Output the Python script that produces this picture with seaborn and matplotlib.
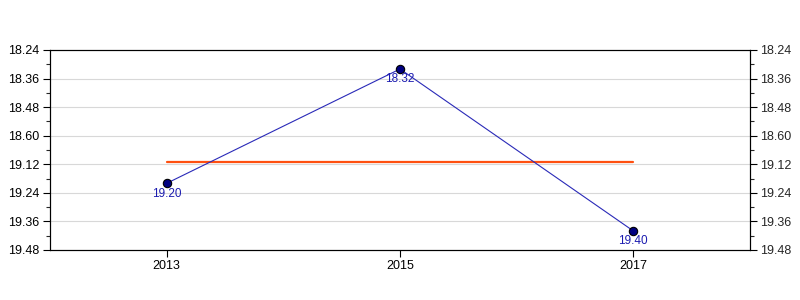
import numpy as np
import matplotlib
matplotlib.use("Agg")
import matplotlib.pyplot as plt
import seaborn as sns
import pandas as pd
from matplotlib.ticker import FixedLocator

years = [2013, 2015, 2017]
values = [19.20, 18.32, 19.40]
value_labels = ["19.20", "18.32", "19.40"]
ref_value = 19.07
tick_values = [18.24, 18.36, 18.48, 18.60, 19.12, 19.24, 19.36, 19.48]
tick_labels = ["18.24", "18.36", "18.48", "18.60", "19.12", "19.24", "19.36", "19.48"]

sns.set_theme(style="white")
plt.rcParams['font.family'] = ['Liberation Sans', 'DejaVu Sans']

tv = np.array(tick_values)
pos = np.arange(len(tv), dtype=float)

def fwd(v):
    return np.interp(v, tv, pos)

def inv(p):
    return np.interp(p, pos, tv)

minor_vals = list(inv(pos[:-1] + 0.5))

fig = plt.figure(figsize=(8, 3), dpi=100)
ax = fig.add_axes([0.0625, 0.1667, 0.875, 0.6667])
ax.set_yscale('function', functions=(fwd, inv))

df = pd.DataFrame({"year": years, "value": values})
sns.lineplot(data=df, x="year", y="value", ax=ax, color="#2a2ab8", linewidth=0.8,
             marker="o", markersize=6, markerfacecolor="#000080", markeredgecolor="black",
             markeredgewidth=0.8)
ax.plot([years[0], years[-1]], [ref_value, ref_value], color="#ff5010", linewidth=1.6, zorder=1)

for x, y, t in zip(years, values, value_labels):
    ax.annotate(t, (x, y), xytext=(0, -7.5), textcoords="offset points",
                ha="center", va="center", color="#1c1cb0", fontsize=8.5)

ax.set_xlim(2012, 2018)
ax.set_ylim(19.48, 18.24)
ax.yaxis.set_major_locator(FixedLocator(tick_values))
ax.yaxis.set_minor_locator(FixedLocator(minor_vals))
ax.set_yticklabels(tick_labels)
ax.set_xticks(years)
ax.set_xticklabels([str(y) for y in years])
ax.set_xlabel("")
ax.set_ylabel("")

for yv in tick_values[1:-1]:
    ax.axhline(yv, color="#d8d8d8", linewidth=0.8, zorder=0)

for s in ax.spines.values():
    s.set_color("black")
    s.set_linewidth(0.8)

ax.tick_params(axis='both', which='major', direction='out', length=5, width=0.8,
               labelsize=9, color="black", labelcolor="black", left=True, bottom=True, pad=2.5)
ax.tick_params(axis='y', which='minor', direction='out', length=3, width=0.8, left=True)
ax.tick_params(axis='x', which='major', top=False)

ax2 = ax.twinx()
ax2.set_yscale('function', functions=(fwd, inv))
ax2.set_ylim(19.48, 18.24)
ax2.yaxis.set_major_locator(FixedLocator(tick_values))
ax2.yaxis.set_minor_locator(FixedLocator(minor_vals))
ax2.set_yticklabels(tick_labels)
ax2.tick_params(axis='y', which='major', direction='out', length=5, width=0.8,
                labelsize=9, right=True, color="black", pad=2.5)
ax2.tick_params(axis='y', which='minor', direction='out', length=3, width=0.8, right=True)
for s in ax2.spines.values():
    s.set_color("black")
    s.set_linewidth(0.8)

fig.savefig("out.png", dpi=100, facecolor="white")
